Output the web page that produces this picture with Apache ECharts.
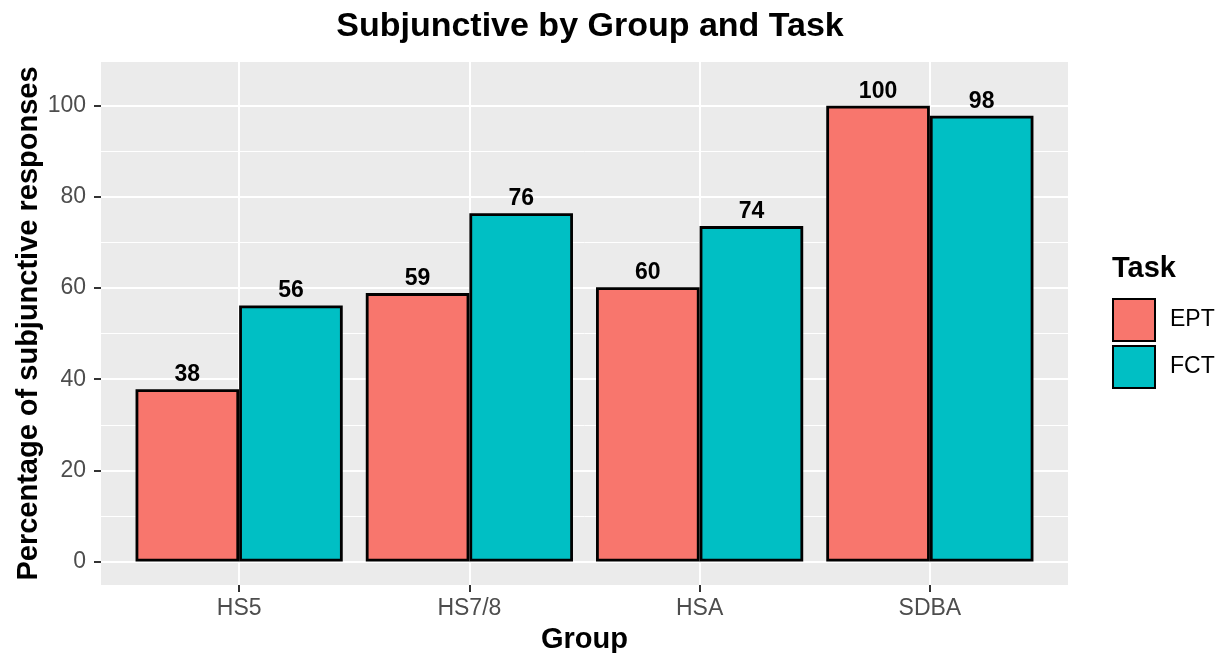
<!DOCTYPE html>
<html>
<head>
<meta charset="utf-8">
<script src="https://cdn.jsdelivr.net/npm/echarts@6/dist/echarts.min.js"></script>
<style>
  html, body { margin: 0; padding: 0; background: #fff; }
  #chart { width: 1225px; height: 653px; }
</style>
</head>
<body>
<div id="chart"></div>
<script>
// data
const groups = ['HS5', 'HS7/8', 'HSA', 'SDBA'];
const eptValues = [37.8, 58.9, 60.2, 100];
const fctValues = [56.2, 76.4, 73.6, 97.8];
const yTicks = [0, 20, 40, 60, 80, 100];
const yMinorTicks = [10, 30, 50, 70, 90];

const FONT = '"Liberation Sans", Arial, sans-serif';

function toPoints(values) {
  return values.map((v, i) => [i, v]);
}

function barSeries(name, values, color) {
  return {
    name: name,
    type: 'bar',
    data: toPoints(values),
    barWidth: 103.6,
    barGap: '0%',
    itemStyle: { color: color, borderColor: '#000', borderWidth: 2.8 },
    label: {
      show: true,
      position: 'top',
      distance: 3,
      color: '#000',
      fontFamily: FONT,
      fontWeight: 'bold',
      fontSize: 23,
      formatter: p => Math.round(p.value[1])
    }
  };
}

const chart = echarts.init(document.getElementById('chart'));
const option = {
  animation: false,
  backgroundColor: '#fff',
  textStyle: { fontFamily: FONT },
  title: {
    text: 'Subjunctive by Group and Task',
    left: 585,
    top: 5,
    textAlign: 'center',
    textStyle: { fontFamily: FONT, fontWeight: 'bold', fontSize: 34, color: '#000' }
  },
  grid: {
    left: 101, right: 157, top: 62, bottom: 68,
    outerBoundsMode: 'none',
    containLabel: false,
    show: true, backgroundColor: '#EBEBEB', borderWidth: 0
  },
  legend: {
    data: ['EPT', 'FCT'],
    orient: 'vertical',
    left: 1112,
    top: 298,
    padding: 0,
    itemWidth: 42,
    itemHeight: 42,
    itemGap: 3,
    icon: 'rect',
    textStyle: { fontFamily: FONT, fontSize: 23, color: '#000', padding: [0, 0, 0, 10] }
  },
  graphic: [{
    type: 'text',
    left: 1112,
    top: 254,
    style: { text: 'Task', fontFamily: FONT, fontWeight: 'bold', fontSize: 29, fill: '#000' }
  }],
  xAxis: {
    type: 'value',
    min: -0.6,
    max: 3.6,
    name: 'Group',
    nameLocation: 'middle',
    nameGap: 40,
    nameTextStyle: { fontFamily: FONT, fontWeight: 'bold', fontSize: 29, color: '#000' },
    axisLine: { show: false, onZero: false },
    axisTick: { show: true, length: 7, customValues: [0, 1, 2, 3], lineStyle: { color: '#333', width: 2 } },
    axisLabel: {
      customValues: [0, 1, 2, 3],
      formatter: v => groups[Math.round(v)] || '',
      color: '#4D4D4D', fontSize: 23, fontFamily: FONT, margin: 12
    },
    splitLine: { show: true, lineStyle: { color: '#fff', width: 2 } }
  },
  yAxis: [{
    type: 'value',
    min: -5.15,
    max: 109.6,
    name: 'Percentage of subjunctive responses',
    nameLocation: 'middle',
    nameGap: 58,
    nameMoveOverlap: false,
    nameTextStyle: { fontFamily: FONT, fontWeight: 'bold', fontSize: 29, color: '#000' },
    axisLine: { show: false, onZero: false },
    axisTick: { show: true, length: 7, customValues: yTicks, lineStyle: { color: '#333', width: 2 } },
    axisLabel: { customValues: yTicks, color: '#4D4D4D', fontSize: 23, fontFamily: FONT, margin: 15 },
    splitLine: { show: true, lineStyle: { color: '#fff', width: 2 } }
  }, {
    type: 'value',
    position: 'left',
    min: -5.15,
    max: 109.6,
    axisLine: { show: false, onZero: false },
    axisTick: { show: false, customValues: yMinorTicks },
    axisLabel: { show: false, customValues: yMinorTicks },
    splitLine: { show: true, lineStyle: { color: '#fff', width: 1 } }
  }],
  series: [
    barSeries('EPT', eptValues, '#F8766D'),
    barSeries('FCT', fctValues, '#00BFC4')
  ]
};
chart.setOption(option);
</script>
</body>
</html>
